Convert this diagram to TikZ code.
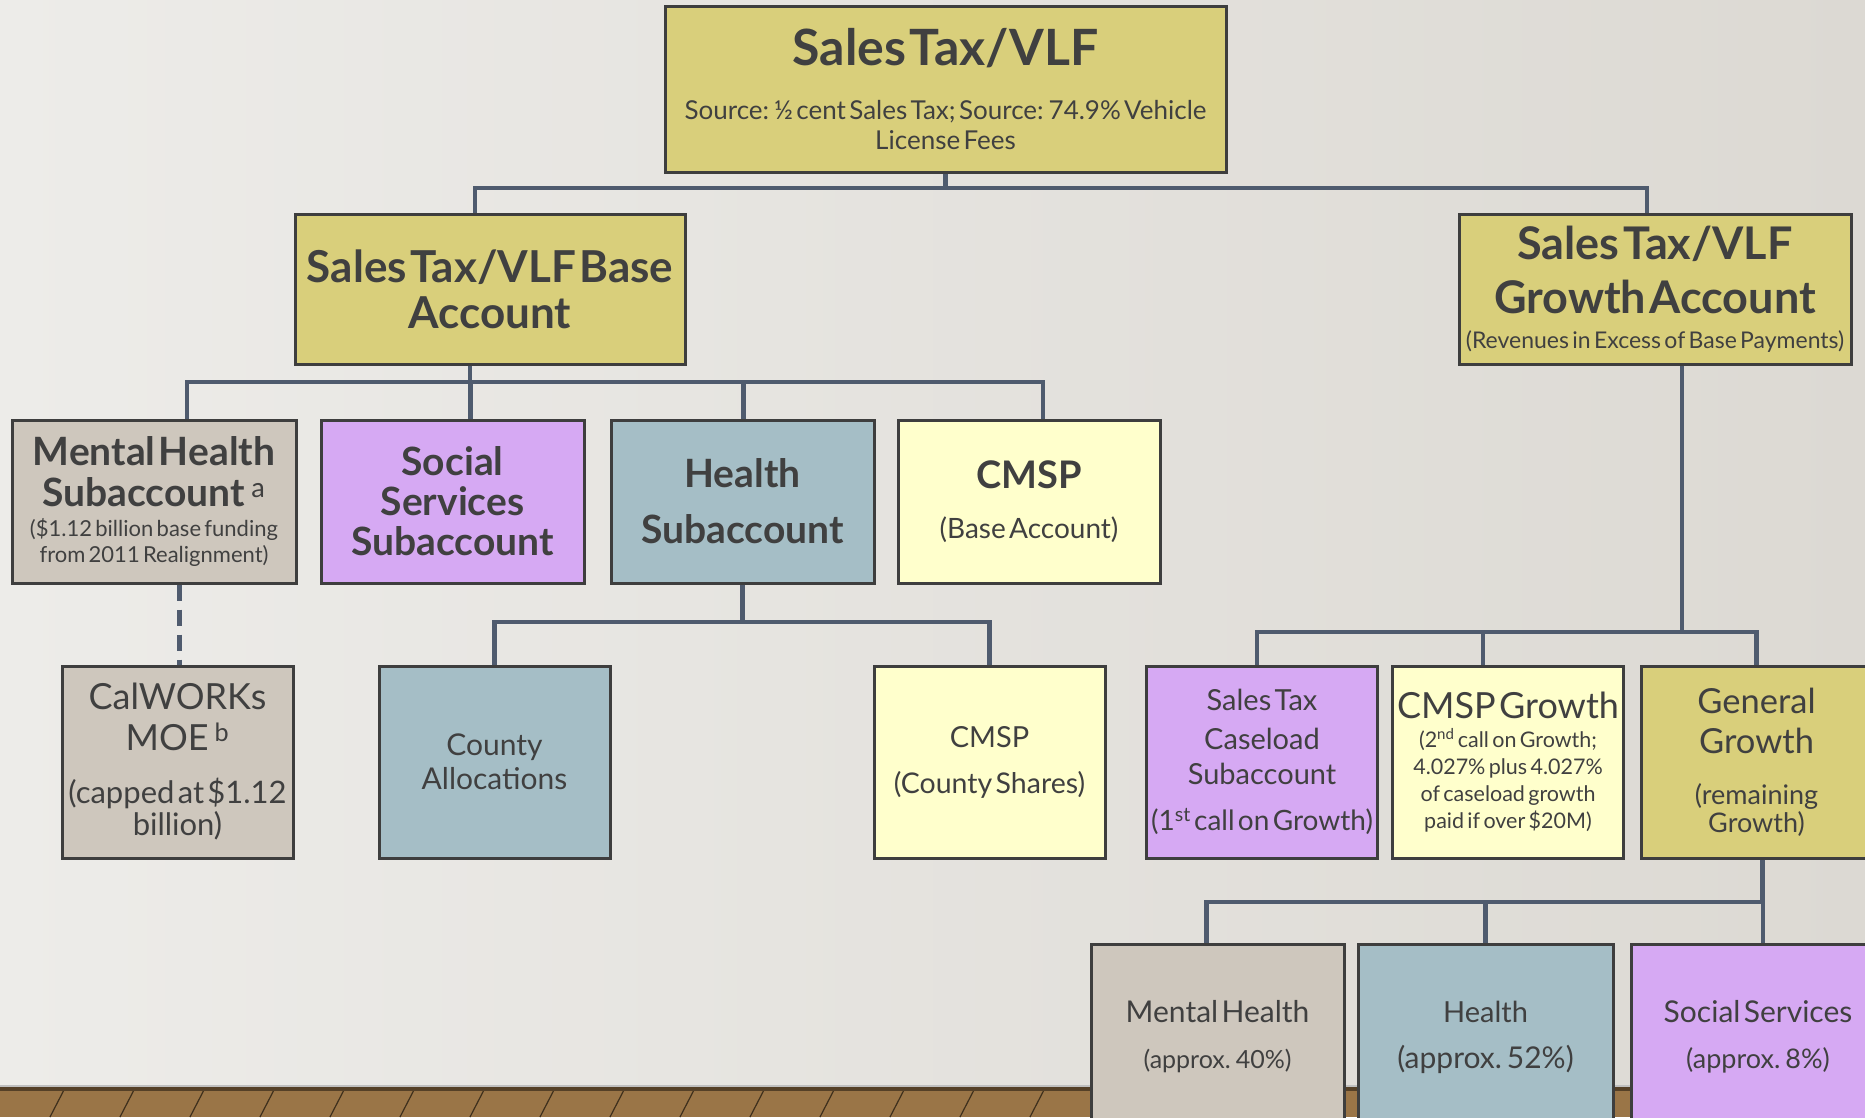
\documentclass[tikz,border=0pt]{standalone}
\usepackage{fontspec}
\setmainfont{Lato}

\definecolor{ink}{HTML}{404040}
\definecolor{frame}{HTML}{3E3E3E}
\definecolor{wirecol}{HTML}{4F5B6E}
\definecolor{acctyellow}{HTML}{D9CF7B}
\definecolor{mhgrey}{HTML}{CEC7BD}
\definecolor{sslilac}{HTML}{D6A9F3}
\definecolor{hblue}{HTML}{A5BEC6}
\definecolor{cmspcream}{HTML}{FFFFCC}
\definecolor{wallL}{HTML}{EDECE9}
\definecolor{wallR}{HTML}{DCD9D3}
\definecolor{floorbrown}{HTML}{9A7547}

\newcommand{\fs}[2]{\fontsize{#1}{#2}\selectfont}

\tikzset{
  box/.style={draw=frame, line width=3pt, text=ink, align=center, inner sep=0pt},
  rowbox/.style={box, minimum height=163pt},
  lowbox/.style={box, minimum width=231pt, text width=227pt, minimum height=192pt},
  botbox/.style={box, minimum width=254pt, text width=248pt, minimum height=186pt},
  wire/.style={draw=wirecol, line width=4.5pt},
  plank/.style={draw=black!60!floorbrown, line width=1.2pt}
}

\begin{document}
\begin{tikzpicture}[x=1pt,y=-1pt]
  \useasboundingbox (0,0) rectangle (1865,1117);
  \clip (0,0) rectangle (1865,1117);
  % wall and floor
  \shade[left color=wallL, right color=wallR] (0,0) rectangle (1865,1086);
  \fill[floorbrown] (0,1086) rectangle (1865,1117);
  \foreach \x in {-20,50,...,1900} {
    \draw[plank] (\x,1117) -- (\x+16,1086);
  };
  \fill[black!45!floorbrown] (0,1086) rectangle (1865,1091);
  \draw[line width=2pt, black!25] (0,1086) -- (1865,1086);

  % top level
  \node[box, fill=acctyellow, minimum width=561pt, text width=555pt, minimum height=166pt] (top) at (945.5,89)
    {\vspace{6pt}{\fs{50}{54}\bfseries Sales Tax/VLF\par}\vspace{18pt}{\fs{26}{30}Source: ½ cent Sales Tax; Source: 74.9\% Vehicle\\License Fees\par}};
  \node[box, fill=acctyellow, minimum width=390pt, text width=388pt, minimum height=150pt] (base) at (490,289)
    {{\fs{44}{46}\bfseries Sales Tax/VLF Base\\Account\par}};
  \node[box, fill=acctyellow, minimum width=392pt, text width=390pt, minimum height=150pt] (growth) at (1655,289)
    {\vspace{4pt}{\fs{45}{50}\bfseries Sales Tax/VLF\\Growth Account\par}\vspace{6pt}{\fs{23}{29}(Revenues in Excess of Base Payments)\par}};

  % base subaccounts
  \node[rowbox, fill=mhgrey, minimum width=284pt, text width=282pt] (mh) at (154,501.5)
    {{\fs{39}{41}\bfseries Mental Health\\Subaccount\,\textsuperscript{\mdseries a}\par}\vspace{4pt}{\fs{22}{26}(\$1.12 billion base funding\\from 2011 Realignment)\par}};
  \node[rowbox, fill=sslilac, minimum width=263pt, text width=259pt] (ss) at (452.5,501.5)
    {{\fs{39}{40}\bfseries Social\\Services\\Subaccount\par}};
  \node[rowbox, fill=hblue, minimum width=263pt, text width=259pt] (health) at (742.5,501.5)
    {{\fs{39}{56}\bfseries Health\\Subaccount\par}};
  \node[rowbox, fill=cmspcream, minimum width=262pt, text width=258pt] (cmsp) at (1029,501.5)
    {{\fs{38}{40}\bfseries CMSP\par}\vspace{20pt}{\fs{28}{30}(Base Account)\par}};

  % lower row
  \node[lowbox, fill=mhgrey] (cal) at (177.5,762)
    {{\fs{36}{41}CalWORKs\\MOE\,\textsuperscript{b}\par}\vspace{19pt}{\fs{31}{33}(capped at \$1.12\\billion)\par}};
  \node[lowbox, fill=hblue] (county) at (494.5,762)
    {{\fs{30}{34}County\\Allocations\par}};
  \node[lowbox, fill=cmspcream] (cmspc) at (989.5,762)
    {{\fs{29}{32}CMSP\par}\vspace{14pt}{\fs{28.5}{32}(County Shares)\par}};
  \node[lowbox, fill=sslilac] (stcs) at (1262,762)
    {\vspace{4pt}{\fs{29}{35}Sales Tax\\Caseload\\Subaccount\par}\vspace{16pt}{\fs{28}{30}(1\textsuperscript{st} call on Growth)\par}};
  \node[lowbox, fill=cmspcream] (cmspg) at (1508,762)
    {{\fs{36}{36}CMSP Growth\par}\vspace{2pt}{\fs{21.5}{27}(2\textsuperscript{nd} call on Growth;\\4.027\% plus 4.027\%\\of caseload growth\\paid if over \$20M)\par}};
  \node[lowbox, fill=acctyellow] (gg) at (1756.5,762)
    {{\fs{34.5}{40}General\\Growth\par}\vspace{23pt}{\fs{27}{28}(remaining\\Growth)\par}};

  % general growth split
  \node[botbox, fill=mhgrey, minimum width=253pt] (bmh) at (1217.5,1037)
    {{\fs{30}{32}Mental Health\par}\vspace{18pt}{\fs{25}{28}(approx. 40\%)\par}};
  \node[botbox, fill=hblue, minimum width=255pt] (bh) at (1485.5,1037)
    {{\fs{29}{32}Health\par}\vspace{14pt}{\fs{30}{32}(approx. 52\%)\par}};
  \node[botbox, fill=sslilac] (bss) at (1758,1037)
    {{\fs{30}{32}Social Services\par}\vspace{18pt}{\fs{27}{28}(approx. 8\%)\par}};

  % connectors
  \coordinate (topbar) at (0,188);
  \coordinate (rowbar) at (0,382);
  \coordinate (hbar) at (0,622);
  \coordinate (gbar) at (0,632);
  \coordinate (bbar) at (0,902);
  \draw[wire] (top.south) -- (top.south |- topbar);
  \draw[wire] ([xshift=-15pt]base.north) |- ([xshift=-8pt]growth.north |- topbar) -- ([xshift=-8pt]growth.north);

  \draw[wire] ([xshift=-20pt]base.south) -- ([xshift=-20pt]base.south |- rowbar);
  \draw[wire] ([xshift=33pt]mh.north) |- ([xshift=14pt]cmsp.north |- rowbar) -- ([xshift=14pt]cmsp.north);
  \foreach \n/\s in {ss/18, health/1} {
    \draw[wire] ([xshift=\s pt]\n.north) -- ([xshift=\s pt]\n.north |- rowbar);
  }
  \draw[wire, dash pattern=on 16pt off 9pt] ([xshift=2pt]cal.north |- mh.south) -- ([xshift=2pt]cal.north);

  \draw[wire] (health.south) -- (health.south |- hbar);
  \draw[wire] (county.north) |- (cmspc.north |- hbar) -- (cmspc.north);

  \draw[wire] ([xshift=27pt]growth.south) -- ([xshift=27pt]growth.south |- gbar);
  \draw[wire] ([xshift=-5pt]stcs.north) |- (gg.north |- gbar) -- (gg.north);
  \draw[wire] ([xshift=-25pt]cmspg.north) -- ([xshift=-25pt]cmspg.north |- gbar);

  \draw[wire] ([xshift=6pt]gg.south) -- ([xshift=6pt]gg.south |- bbar);
  \draw[wire] ([xshift=-11pt]bmh.north) |- ([xshift=5pt]bss.north |- bbar) -- ([xshift=5pt]bss.north);
  \draw[wire] (bh.north) -- (bh.north |- bbar);
\end{tikzpicture}
\end{document}
